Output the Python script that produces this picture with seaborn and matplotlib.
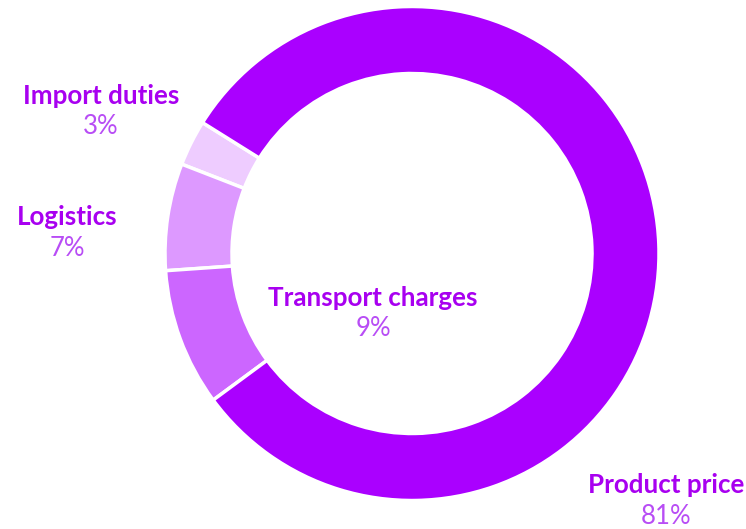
import numpy as np
import pandas as pd
import matplotlib.pyplot as plt
import seaborn as sns

# cost breakdown
categories = ['Import duties', 'Logistics', 'Transport charges', 'Product price']
shares = [3, 7, 9, 81]
colors = ['#EECCFF', '#DD99FF', '#CC66FF', '#AA00FF']

df = pd.DataFrame({'category': categories, 'share': shares})

sns.set_theme(style='white')
plt.rcParams['font.family'] = ['Lato', 'DejaVu Sans']

fig = plt.figure(figsize=(7.46, 5.29), dpi=100)
ax = fig.add_axes([0, 0, 1, 1])

# donut, drawn counterclockwise starting just after product price ends
ax.pie(df['share'], colors=colors, startangle=148, counterclock=True,
       center=(412, 275.5), radius=247, frame=True,
       wedgeprops=dict(width=67, edgecolor='white', linewidth=2.5))
ax.set_xlim(0, 746)
ax.set_ylim(0, 529)
ax.set_aspect('equal')
ax.axis('off')

# label positions (pixels from top-left)
label_pos = {
    'Import duties': (101, 96),
    'Logistics': (67, 217),
    'Transport charges': (373, 298),
    'Product price': (666, 485),
}

for cat, val in zip(df['category'], df['share']):
    x, y = label_pos[cat]
    ax.text(x, 529 - y, cat, ha='center', va='center', fontsize=18.7,
            fontweight='bold', color='#A800F0')
    ax.text(x, 529 - y - 31, f'{val}%', ha='center', va='center',
            fontsize=18.5, color='#B84DF5')

fig.savefig('out.png', dpi=100)
